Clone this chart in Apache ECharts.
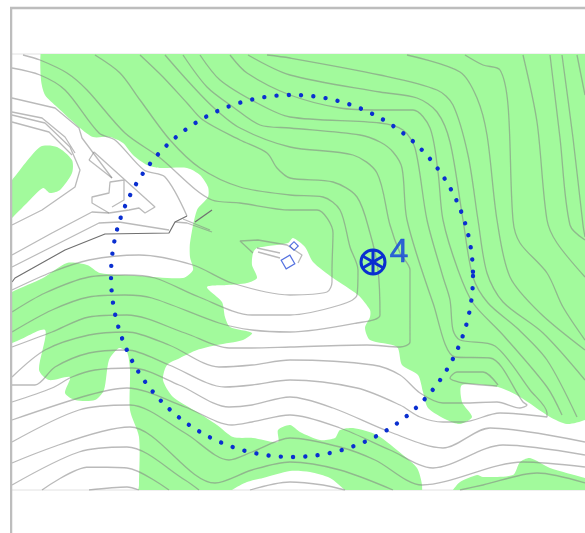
<!DOCTYPE html>
<html><head><meta charset="utf-8">
<style>html,body{margin:0;padding:0;background:#fff}#c{width:585px;height:533px}</style>
<script src="https://cdn.jsdelivr.net/npm/echarts@6/dist/echarts.min.js"></script>
</head><body><div id="c"></div>
<script>
const greenMain=[[41,50],[41,80],[45,95],[57,107],[80,128],[93,137],[110,137],[123,143],[133,155],[147,165],[160,168],[187,168],[200,175],[208,187],[208,197],[197,210],[190,243],[190,257],[193,270],[183,278],[140,276],[100,273],[87,265],[67,263],[43,278],[10,293],[4,300],[4,340],[12,343],[45,330],[39,370],[49,380],[70,377],[65,393],[75,400],[95,400],[104,390],[109,360],[119,348],[127,352],[130,370],[130,410],[139,437],[139,485],[139,496],[225,496],[232,490],[247,482],[263,478],[290,471],[310,472],[330,478],[345,490],[352,496],[420,496],[422,485],[417,468],[403,455],[377,435],[353,428],[340,430],[335,438],[320,440],[300,432],[290,425],[278,430],[278,442],[253,438],[233,437],[217,425],[197,412],[173,397],[163,380],[167,365],[180,358],[197,350],[217,345],[243,340],[252,333],[230,327],[225,317],[222,302],[207,287],[227,285],[247,283],[257,278],[252,265],[253,253],[257,248],[288,243],[293,238],[305,247],[313,262],[333,278],[358,295],[370,310],[370,317],[365,328],[370,340],[397,347],[402,365],[418,375],[423,392],[428,408],[447,420],[460,424],[472,417],[462,402],[462,385],[498,387],[520,397],[550,417],[567,424],[585,420],[592,415],[592,48],[585,48],[47,48]];
const greenBlob=[[8,184],[12,180],[40,147],[57,147],[72,160],[72,173],[60,190],[50,193],[43,188],[27,203],[12,218],[8,222]];
const greenBottom=[[450,496],[453,490],[460,482],[477,475],[483,477],[513,475],[520,462],[530,458],[550,468],[585,478],[592,480],[592,496]];
const greenShapes=[greenMain,greenBlob,greenBottom];

const lineR1=[[577,55],[585,95]];
const lineR2=[[562,55],[573,138],[583,225],[585,237]];
const lineR3=[[550,55],[560,138],[570,225],[585,240]];
const lineR4=[[523,55],[537,122],[547,220],[557,243],[585,277]];
const lineR5=[[465,55],[483,65],[500,70],[508,105],[513,220],[520,243],[547,273],[563,307],[585,340]];
const lineR6=[[407,55],[460,72],[477,98],[487,135],[497,220],[510,277],[540,313],[585,350]];
const lineR7=[[267,55],[290,58],[380,75],[437,90],[453,105],[468,155],[478,220],[487,273],[503,302],[543,333],[585,380]];
const lineR8=[[248,55],[290,75],[380,92],[417,98],[437,112],[450,142],[463,220],[473,277],[488,303],[517,328],[547,360],[577,417]];
const lineT1=[[23,55],[40,60],[67,73],[87,90],[125,133],[159,157],[212,200],[240,203],[290,210],[317,210],[333,233],[332,270],[332,282],[327,292],[290,295],[232,283],[193,265],[139,255],[89,260],[52,272],[12,290]];
const lineT2=[[12,68],[40,75],[65,90],[99,133],[115,140],[144,170],[165,177],[187,216]];
const lineT3=[[95,55],[120,73],[140,100],[170,140],[200,168],[240,187],[290,195],[323,197],[340,210],[350,247],[358,270],[357,295],[340,305],[290,315],[252,315],[199,297],[155,278],[125,275],[89,277],[45,293],[12,312]];
const lineT4=[[140,55],[163,77],[187,103],[203,120],[240,140],[267,153],[277,168],[290,178],[333,182],[357,197],[370,233],[378,270],[380,315],[357,323],[290,332],[252,330],[219,323],[152,298],[125,295],[89,297],[52,310],[12,332]];
const lineT5=[[165,55],[187,80],[213,107],[240,128],[290,147],[353,155],[377,173],[390,225],[400,253],[410,270],[410,342],[400,347],[367,345],[290,347],[252,348],[229,348],[185,333],[127,315],[89,317],[52,332],[12,347]];
const lineT6=[[183,55],[207,87],[233,107],[260,125],[290,128],[360,135],[380,142],[393,152],[402,168],[407,220],[433,303],[455,357],[490,358],[523,402],[527,405],[520,408],[497,402],[463,403],[443,403],[420,393],[400,375],[373,365],[290,360],[252,365],[219,367],[169,345],[127,332],[89,335],[45,350],[12,377]];
const lineT7=[[200,55],[220,80],[257,103],[290,117],[380,123],[403,130],[415,148],[427,220],[443,277],[450,300],[453,330],[460,340],[495,346],[530,390],[547,413],[547,417],[500,413],[463,422],[443,422],[420,417],[400,405],[357,388],[290,380],[252,385],[225,387],[169,365],[127,350],[89,353],[55,367],[35,385],[12,385]];
const lineT8=[[230,55],[247,73],[290,95],[340,108],[380,110],[413,110],[430,128],[438,172],[443,220],[458,270],[473,303],[503,335],[547,387],[562,415]];
const lineT8b=[[585,442],[490,428],[443,448],[390,432],[333,408],[290,397],[252,405],[229,407],[179,385],[132,368],[95,370],[72,377],[52,388],[12,402]];
const lineT9=[[585,455],[503,445],[433,468],[390,450],[340,428],[290,415],[252,422],[232,425],[185,407],[127,388],[89,395],[12,420]];
const lineT10=[[585,467],[523,462],[422,485],[375,460],[340,447],[290,438],[252,452],[229,460],[185,433],[130,405],[79,410],[12,442]];
const lineT11=[[393,490],[340,470],[290,462],[252,470],[215,483],[130,427],[12,463]];
const lineT12=[[345,490],[323,485],[290,482],[250,490]];
const lineT13=[[199,490],[185,480],[127,447],[79,452],[12,485]];
const lineT14=[[169,490],[127,468],[89,467],[42,490]];
const lineT14b=[[139,490],[127,487],[89,490]];
const lineT15=[[460,490],[483,485],[537,473],[585,483]];
const lineLoop=[[497,386],[463,383],[450,378],[457,372],[483,372],[498,385]];
const contourLines=[lineR1,lineR2,lineR3,lineR4,lineR5,lineR6,lineR7,lineR8,lineT1,lineT2,lineT3,lineT4,lineT5,lineT6,lineT7,lineT8,lineT8b,lineT9,lineT10,lineT11,lineT12,lineT13,lineT14,lineT14b,lineT15,lineLoop];

const road1=[[12,98],[55,108],[79,128],[82,138],[112,178]];
const road2=[[12,112],[42,118],[65,137],[75,153]];
const road3=[[12,115],[45,123],[70,147],[80,170],[75,187],[42,210],[12,225]];
const road4=[[12,122],[49,132],[72,155]];
const road5=[[12,255],[52,233],[92,212],[109,213]];
const road6=[[12,267],[99,223],[119,222],[169,230]];
const buildingA=[[89,160],[94,152],[155,207],[145,213],[139,208],[129,210],[109,213],[92,203],[92,197],[109,193],[110,182],[124,180],[124,200],[112,207]];
const buildingB=[[89,160],[112,178]];
const hook1=[[175,222],[187,223],[212,232]];
const hook2=[[183,219],[210,230]];
const top1=[[253,253],[240,241],[258,240],[287,245],[302,255],[298,263]];
const top2=[[257,248],[280,253]];
const top3=[[258,252],[280,258]];
const thinLines=[road1,road2,road3,road4,road5,road6,buildingA,buildingB,hook1,hook2,top1,top2,top3];
const roadDark=[[12,282],[15,278],[65,250],[105,234],[169,233],[175,222],[187,216]];
const roadDark2=[[195,222],[212,210]];
const darkLines=[roadDark,roadDark2];

const ringCenter=[292,276];
const ringRadius=[181];
const stationPoint=[373,262];
const stationLabel=["4"];
const labelPoint=[399,253];
const smallBox=[294,246];
const bigBox=[288,262];
const frameTop=[[10,8],[585,8]];
const frameLeft=[[11,8],[11,533]];
const mapTop=[[12,54],[585,54]];
const mapBottom=[[12,490],[585,490]];

const lineSeries=(pts,color,w,smooth,z,clip)=>({type:'line',data:pts,showSymbol:false,symbol:'none',smooth:smooth,silent:true,z:z,clip:clip,lineStyle:{color:color,width:w}});
const blue='#0a2fd0';
const series=[];
series.push({type:'custom',z:1,silent:true,clip:true,data:greenShapes.map((s,i)=>[i]),
  renderItem:(p,api)=>({type:'polygon',shape:{points:greenShapes[api.value(0)].map(q=>api.coord(q)),smooth:0.25},style:{fill:'#a2fa9c',stroke:null}}),encode:{x:[],y:[]}});
contourLines.forEach(l=>series.push(lineSeries(l,'rgba(130,130,130,0.55)',1.3,0.3,2,true)));
thinLines.forEach(l=>series.push(lineSeries(l,'rgba(130,130,130,0.55)',1.3,false,3,true)));
darkLines.forEach(l=>series.push(lineSeries(l,'#707070',1.2,false,3,true)));
[frameTop,frameLeft].forEach(l=>series.push(lineSeries(l,'#bdbdbd',2.5,false,5,false)));
[mapTop,mapBottom].forEach(l=>series.push(lineSeries(l,'#e2e2e2',1,false,0,false)));
series.push({type:'custom',z:6,silent:true,data:[[ringCenter[0],ringCenter[1],ringRadius[0]]],
  renderItem:(p,api)=>{const c=api.coord([api.value(0),api.value(1)]);const r=api.size([api.value(2),0])[0];
    return {type:'circle',shape:{cx:c[0],cy:c[1],r:r},style:{fill:null,stroke:blue,lineWidth:4.4,lineCap:'round',lineDash:[0.01,12.3]}};}});
series.push({type:'custom',z:7,silent:true,data:[stationPoint],
  renderItem:(p,api)=>{const c=api.coord([api.value(0),api.value(1)]);const R=12;const ch=[{type:'circle',shape:{cx:c[0],cy:c[1],r:R},style:{fill:null,stroke:blue,lineWidth:3}}];
    [90,30,150].forEach(a=>{const t=a*Math.PI/180;ch.push({type:'line',shape:{x1:c[0]-R*Math.cos(t),y1:c[1]-R*Math.sin(t),x2:c[0]+R*Math.cos(t),y2:c[1]+R*Math.sin(t)},style:{stroke:blue,lineWidth:3}});});
    return {type:'group',children:ch};}});
series.push({type:'scatter',z:7,silent:true,data:[labelPoint],symbolSize:0,label:{show:true,position:'inside',formatter:()=>stationLabel[0],fontFamily:'Liberation Sans',fontSize:34,color:'#0f3fe0',textBorderColor:'#0f3fe0',textBorderWidth:0.5}});
series.push({type:'scatter',z:7,silent:true,data:[smallBox],symbol:'rect',symbolSize:6,symbolRotate:45,itemStyle:{color:'rgba(0,0,0,0)',borderColor:'#2a4fd8',borderWidth:1.2}});
series.push({type:'scatter',z:7,silent:true,data:[bigBox],symbol:'rect',symbolSize:10,symbolRotate:30,itemStyle:{color:'rgba(0,0,0,0)',borderColor:'#2a4fd8',borderWidth:1.2}});
const chart=echarts.init(document.getElementById('c'),null,{renderer:'canvas'});
chart.setOption({animation:false,backgroundColor:'#fff',
 grid:{left:12,right:0,top:54,bottom:43},
 xAxis:{type:'value',min:12,max:585,show:false},
 yAxis:{type:'value',min:54,max:490,inverse:true,show:false},
 tooltip:{show:false},legend:{show:false},series:series});
</script></body></html>
